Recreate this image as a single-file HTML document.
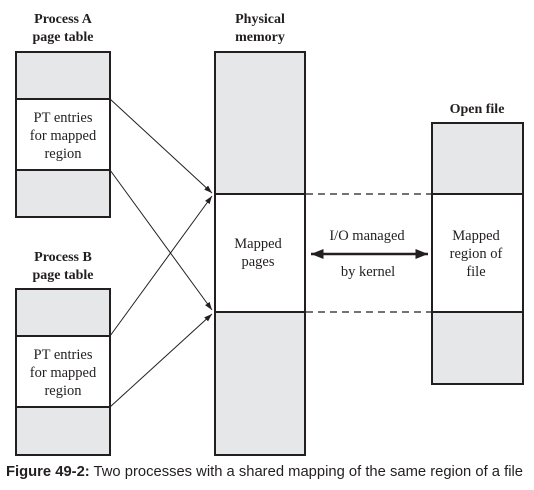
<!DOCTYPE html>
<html><head><style>
body{margin:0;background:#fff;width:534px;height:485px;overflow:hidden}
svg text{font-family:"Liberation Serif",serif;fill:#231f20}
</style></head><body>
<svg width="534" height="485" viewBox="0 0 534 485" xmlns="http://www.w3.org/2000/svg">
<defs>
<marker id="a" viewBox="0 0 10 10" refX="10" refY="5" markerWidth="8" markerHeight="8" orient="auto-start-reverse"><path d="M0,1.5 L10,5 L0,8.5 z" fill="#231f20"/></marker>
<marker id="b" viewBox="0 0 10 10" refX="10" refY="5" markerWidth="5" markerHeight="5" orient="auto-start-reverse"><path d="M0,1 L10,5 L0,9 z" fill="#231f20"/></marker>
</defs>
<g font-weight="bold" font-size="14" text-anchor="middle">
<text x="63" y="23">Process A</text><text x="63" y="41">page table</text>
<text x="260" y="23">Physical</text><text x="260" y="41">memory</text>
<text x="63" y="261">Process B</text><text x="63" y="279">page table</text>
<text x="477" y="113">Open file</text>
</g>
<g stroke="#231f20" stroke-width="2">
<rect x="16" y="52" width="94" height="47" fill="#e6e7e8"/><rect x="16" y="99" width="94" height="71" fill="#fff"/><rect x="16" y="170" width="94" height="47" fill="#e6e7e8"/>
<rect x="16" y="289" width="94" height="47" fill="#e6e7e8"/><rect x="16" y="336" width="94" height="71" fill="#fff"/><rect x="16" y="407" width="94" height="48" fill="#e6e7e8"/>
<rect x="215" y="52" width="90" height="142" fill="#e6e7e8"/><rect x="215" y="194" width="90" height="118" fill="#fff"/><rect x="215" y="312" width="90" height="143" fill="#e6e7e8"/>
<rect x="432" y="123" width="91" height="71" fill="#e6e7e8"/><rect x="432" y="194" width="91" height="118" fill="#fff"/><rect x="432" y="312" width="91" height="72" fill="#e6e7e8"/>
</g>
<g stroke="#231f20" stroke-width="1.2" stroke-dasharray="7,5">
<line x1="306" y1="194" x2="432" y2="194"/><line x1="306" y1="312" x2="432" y2="312"/>
</g>
<g stroke="#231f20" stroke-width="1" marker-end="url(#a)">
<line x1="110" y1="99" x2="212" y2="193"/>
<line x1="110" y1="170" x2="212" y2="310"/>
<line x1="110" y1="336" x2="212" y2="196"/>
<line x1="110" y1="407" x2="212" y2="314"/>
</g>
<line x1="311" y1="254" x2="428" y2="254" stroke="#231f20" stroke-width="2.5" marker-start="url(#b)" marker-end="url(#b)"/>
<g font-size="14.5" text-anchor="middle">
<text x="63" y="122">PT entries</text><text x="63" y="140">for mapped</text><text x="63" y="158">region</text>
<text x="63" y="359">PT entries</text><text x="63" y="377">for mapped</text><text x="63" y="395">region</text>
<text x="258" y="248">Mapped</text><text x="258" y="266">pages</text>
<text x="367" y="240">I/O managed</text><text x="368" y="276">by kernel</text>
<text x="476" y="240">Mapped</text><text x="476" y="258">region of</text><text x="476" y="276">file</text>
</g>
<text x="6" y="476" style="font-family:'Liberation Sans',sans-serif" font-size="14.5" textLength="517" lengthAdjust="spacingAndGlyphs"><tspan font-weight="bold">Figure 49-2:</tspan> Two processes with a shared mapping of the same region of a file</text>
</svg>
</body></html>
